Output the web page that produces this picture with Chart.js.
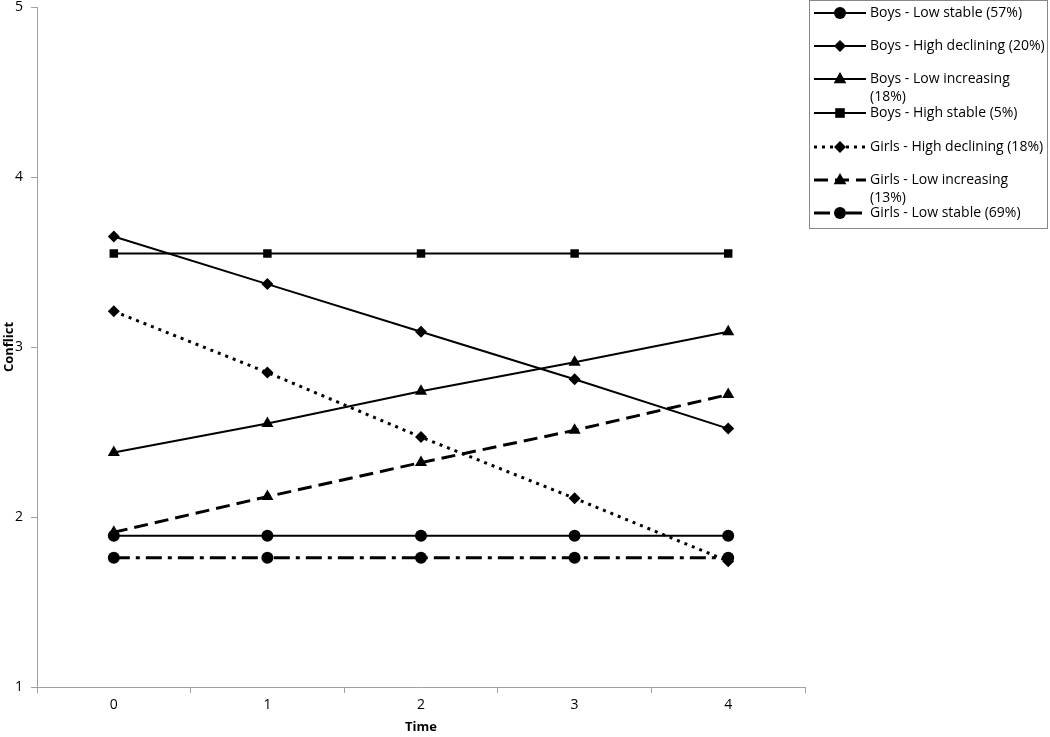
<!DOCTYPE html>
<html lang="en">
<head>
<meta charset="UTF-8">
<title>Conflict trajectories</title>
<script src="https://cdn.jsdelivr.net/npm/chart.js"></script>
<style>
  body { margin: 0; background: #fff; }
  .wrap { width: 1050px; height: 737px; position: relative; }
</style>
</head>
<body>
<div class="wrap"><canvas id="chart" width="1050" height="737"></canvas></div>
<script>
// time points (x axis categories)
const times = ['0', '1', '2', '3', '4'];

// series names
const seriesNames = [
  'Boys - Low stable (57%)',
  'Boys - High declining (20%)',
  'Boys - Low increasing (18%)',
  'Boys - High stable (5%)',
  'Girls - High declining (18%)',
  'Girls - Low increasing (13%)',
  'Girls - Low stable (69%)'
];

// conflict values per series
const boysLowStable      = [1.89, 1.89, 1.89, 1.89, 1.89];
const boysHighDeclining  = [3.65, 3.37, 3.09, 2.81, 2.52];
const boysLowIncreasing  = [2.38, 2.55, 2.74, 2.91, 3.09];
const boysHighStable     = [3.55, 3.55, 3.55, 3.55, 3.55];
const girlsHighDeclining = [3.21, 2.85, 2.47, 2.11, 1.74];
const girlsLowIncreasing = [1.91, 2.12, 2.32, 2.51, 2.72];
const girlsLowStable     = [1.76, 1.76, 1.76, 1.76, 1.76];

// y axis range and step
const yMin = 1;
const yMax = 5;
const yStep = 1;

const FONT = '"Open Sans", "Liberation Sans", sans-serif';

// look of each series: marker, dash, width, legend wrap
const looks = [
  { shape: 'circle',   dash: [],              width: 2, wrap: false },
  { shape: 'diamond',  dash: [],              width: 2, wrap: false },
  { shape: 'triangle', dash: [],              width: 2, wrap: true },
  { shape: 'square',   dash: [],              width: 2, wrap: false },
  { shape: 'diamond',  dash: [3, 5],          width: 3, wrap: false },
  { shape: 'triangle', dash: [14, 7],         width: 3, wrap: true },
  { shape: 'circle',   dash: [16, 6, 4, 6],   width: 3, wrap: false }
];
const pointStyles = { circle: 'circle', diamond: 'rectRot', triangle: 'triangle', square: 'rect' };
const pointSizes  = { circle: 6, diamond: 6, triangle: 7, square: 6 };

const values = [boysLowStable, boysHighDeclining, boysLowIncreasing, boysHighStable,
                girlsHighDeclining, girlsLowIncreasing, girlsLowStable];

const datasets = values.map((v, i) => ({
  label: seriesNames[i],
  data: v,
  borderColor: '#000',
  backgroundColor: '#000',
  borderWidth: looks[i].width,
  borderDash: looks[i].dash,
  pointStyle: pointStyles[looks[i].shape],
  pointRadius: pointSizes[looks[i].shape],
  pointBackgroundColor: '#000',
  pointBorderColor: '#000',
  pointBorderWidth: 0,
  tension: 0
}));

function drawMarker(ctx, shape, x, y) {
  const r = pointSizes[shape];
  ctx.beginPath();
  if (shape === 'circle') {
    ctx.arc(x, y, r, 0, Math.PI * 2);
  } else if (shape === 'diamond') {
    ctx.moveTo(x, y - r); ctx.lineTo(x + r, y); ctx.lineTo(x, y + r); ctx.lineTo(x - r, y);
  } else if (shape === 'triangle') {
    ctx.moveTo(x, y - r); ctx.lineTo(x + r * 0.9, y + r * 0.6); ctx.lineTo(x - r * 0.9, y + r * 0.6);
  } else {
    ctx.rect(x - r * 0.8, y - r * 0.8, r * 1.6, r * 1.6);
  }
  ctx.closePath();
  ctx.fill();
}

// Excel style legend box on the right
const legendBox = {
  id: 'legendBox',
  afterDraw(chart) {
    const ctx = chart.ctx;
    ctx.save();
    ctx.strokeStyle = '#888';
    ctx.lineWidth = 1;
    ctx.strokeRect(809.5, 0.5, 238, 228);
    ctx.font = '14px ' + FONT;
    ctx.textBaseline = 'middle';
    ctx.fillStyle = '#000';
    const rows = [13, 46, 79, 113, 147, 180, 213];
    seriesNames.forEach((name, i) => {
      const y = rows[i];
      ctx.strokeStyle = '#000';
      ctx.lineWidth = looks[i].width;
      ctx.setLineDash(looks[i].dash);
      ctx.beginPath();
      ctx.moveTo(814, y);
      ctx.lineTo(866, y);
      ctx.stroke();
      ctx.setLineDash([]);
      drawMarker(ctx, looks[i].shape, 840, y);
      if (looks[i].wrap) {
        const cut = name.lastIndexOf(' ');
        ctx.fillText(name.slice(0, cut), 870, y);
        ctx.fillText(name.slice(cut + 1), 870, y + 18);
      } else {
        ctx.fillText(name, 870, y);
      }
    });
    ctx.restore();
  }
};

new Chart(document.getElementById('chart'), {
  type: 'line',
  data: { labels: times, datasets },
  options: {
    responsive: false,
    animation: false,
    layout: { padding: { top: 7, right: 245, left: 0, bottom: 0 } },
    plugins: { legend: { display: false }, tooltip: { enabled: false } },
    scales: {
      x: {
        offset: true,
        grid: { offset: true, drawOnChartArea: false, tickLength: 6, color: '#a0a0a0' },
        border: { color: '#a0a0a0', width: 1 },
        ticks: { color: '#000', font: { family: FONT, size: 14 }, padding: 4 },
        title: { display: true, text: 'Time', color: '#000', font: { family: FONT, size: 13, weight: 'bold' }, padding: { top: 2, bottom: 2 } },
        afterFit(scale) { scale.height = 50; scale.paddingLeft = 0; scale.paddingRight = 0; }
      },
      y: {
        min: yMin,
        max: yMax,
        grid: { drawOnChartArea: false, tickLength: 6, color: '#a0a0a0' },
        border: { color: '#a0a0a0', width: 1 },
        ticks: { stepSize: yStep, color: '#000', font: { family: FONT, size: 14 }, padding: 8 },
        title: { display: true, text: 'Conflict', color: '#000', font: { family: FONT, size: 13, weight: 'bold' }, padding: { top: 1, bottom: 1 } },
        afterFit(scale) { scale.width = 37; scale.paddingTop = 0; scale.paddingBottom = 0; }
      }
    }
  },
  plugins: [legendBox]
});
</script>
</body>
</html>
